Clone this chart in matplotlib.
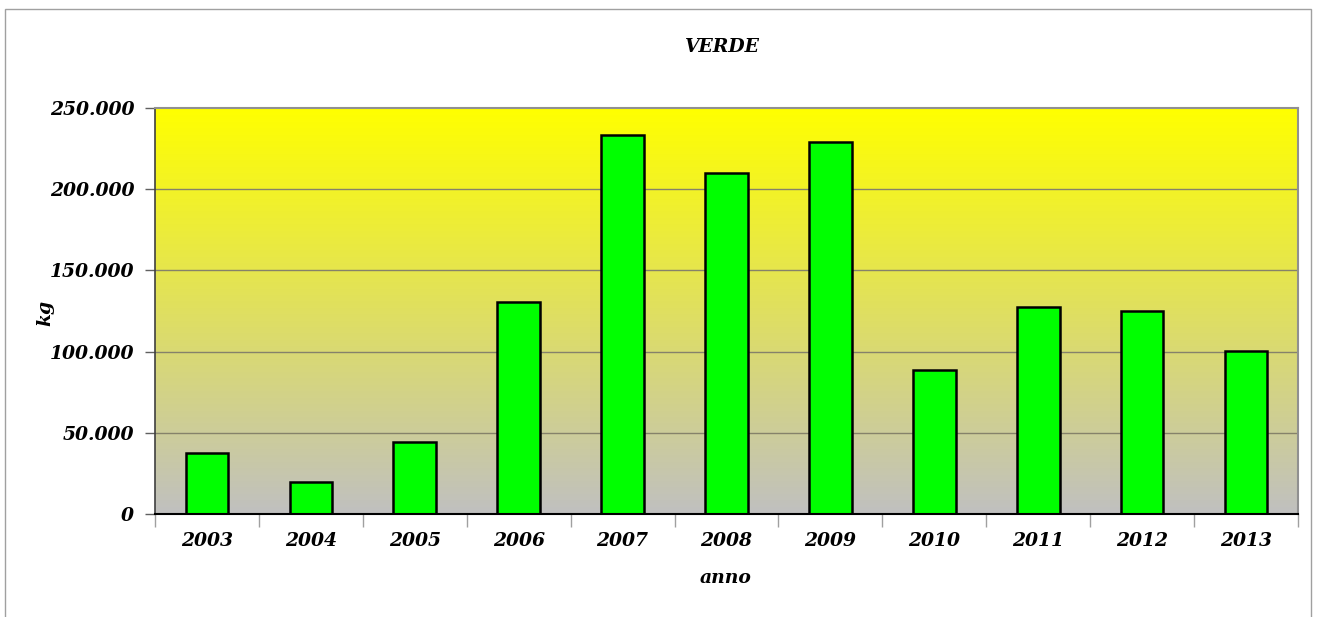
import matplotlib
matplotlib.use("Agg")
import matplotlib.pyplot as plt
import numpy as np
from matplotlib.ticker import FuncFormatter
from matplotlib.patches import Rectangle

years = ["2003", "2004", "2005", "2006", "2007", "2008", "2009", "2010", "2011", "2012", "2013"]
values = [37400, 19900, 44100, 130700, 233600, 210200, 228900, 88500, 127300, 125200, 100600]
title = "VERDE"
xlabel = "anno"
ylabel = "kg"
yticks = [0, 50000, 100000, 150000, 200000, 250000]

FAM = "DejaVu Serif"
FS = 13.5

W, H = 1322, 617
fig = plt.figure(figsize=(W / 100, H / 100), dpi=100)
fig.patch.set_facecolor("white")

font = dict(family=FAM, weight="bold", style="italic")

# outer chart border
fig.add_artist(Rectangle((5 / W, -0.01), (1311 - 5) / W, 1 - 9 / H + 0.01,
                         transform=fig.transFigure, fill=False,
                         edgecolor="#a0a0a0", linewidth=1.0))

left, right, top, bottom = 155 / W, 1298 / W, 1 - 108 / H, 1 - 514 / H
ax = fig.add_axes([left, bottom, right - left, top - bottom])

x = np.arange(len(years))
ax.set_xlim(-0.5, len(years) - 0.5)
ax.set_ylim(0, 250000)

# gradient background yellow -> grey
grad = np.linspace(0, 1, 256).reshape(-1, 1)
c_top = np.array([255, 255, 0]) / 255
c_bot = np.array([192, 192, 192]) / 255
img = c_bot[None, None, :] * (1 - grad[:, :, None]) + c_top[None, None, :] * grad[:, :, None]
ax.imshow(img, extent=[-0.5, len(years) - 0.5, 0, 250000], aspect="auto",
          origin="lower", zorder=0)

for yv in yticks[1:-1]:
    ax.axhline(yv, color="#85826a", linewidth=1.0, zorder=1)

ax.bar(x, values, width=0.41, color="#00ff00", edgecolor="black", linewidth=1.8, zorder=3)

for s in ["top", "right"]:
    ax.spines[s].set_color("#909090")
    ax.spines[s].set_linewidth(1.5)
ax.spines["left"].set_color("#404040")
ax.spines["left"].set_linewidth(1.2)
ax.spines["bottom"].set_color("black")
ax.spines["bottom"].set_linewidth(1.5)
ax.spines["bottom"].set_zorder(4)

ax.set_yticks(yticks)
ax.yaxis.set_major_formatter(FuncFormatter(lambda v, p: f"{int(v):,}".replace(",", ".")))
ax.tick_params(axis="y", length=7, width=1, color="#606060", pad=8)

ax.set_xticks(np.arange(-0.5, len(years), 1.0))
ax.set_xticklabels([])
ax.set_xticks(x, minor=True)
ax.set_xticklabels(years, minor=True)
ax.tick_params(axis="x", which="major", length=9, width=1, color="#a0a0a0")
ax.tick_params(axis="x", which="minor", length=0, pad=13)

for lab in ax.get_yticklabels() + ax.get_xticklabels(minor=True):
    lab.set_fontfamily(FAM)
    lab.set_fontweight("bold")
    lab.set_fontstyle("italic")
    lab.set_fontsize(FS)
    lab.set_color("black")

fig.text(722 / W, 1 - 47 / H, title, ha="center", va="center", fontsize=FS, **font)
fig.text(726 / W, 1 - 578 / H, xlabel, ha="center", va="center", fontsize=FS, **font)
fig.text(45 / W, 1 - 313 / H, ylabel, ha="center", va="center", rotation=90, fontsize=FS, **font)

fig.savefig("out.png", dpi=100, facecolor="white")
